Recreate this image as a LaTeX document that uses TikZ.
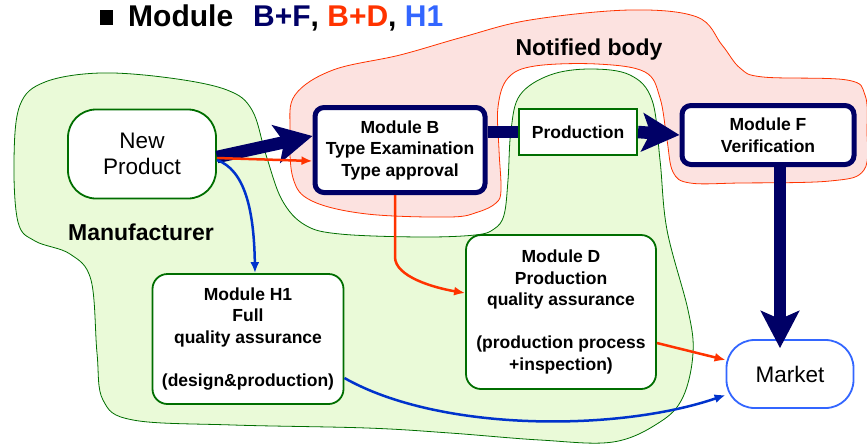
\documentclass[tikz,border=0pt]{standalone}
\usepackage{fontspec}
\setmainfont{Liberation Sans}
\usepackage{tikz}
\usetikzlibrary{arrows.meta}
\usepackage{xcolor}
\definecolor{deepnavy}{RGB}{0,0,102}
\definecolor{signalred}{RGB}{255,51,0}
\definecolor{lightblue}{RGB}{51,102,255}
\definecolor{deepblue}{RGB}{0,51,204}
\definecolor{deepgreen}{RGB}{0,110,0}
\definecolor{softgreen}{RGB}{234,250,216}
\definecolor{softred}{RGB}{252,226,224}
\tikzset{
  modnode/.style={draw=deepnavy,line width=5pt,rounded corners=9pt,fill=white,align=center,inner sep=0pt,
    font=\bfseries\fontsize{17.5}{21.5}\selectfont},
  qanode/.style={modnode,draw=deepgreen,line width=1.8pt,rounded corners=15pt},
  prodnode/.style={modnode,draw=deepgreen,line width=2pt,sharp corners},
  endnode/.style={draw=deepgreen,line width=1.8pt,rounded corners=28pt,fill=white,align=center,inner sep=0pt,
    font=\fontsize{22.5}{26}\selectfont},
  marketnode/.style={endnode,draw=lightblue},
  areatext/.style={anchor=base,font=\bfseries\fontsize{23}{26}\selectfont},
  manuarea/.style={draw=deepgreen,line width=0.8pt,fill=softgreen},
  notiarea/.style={draw=signalred,line width=0.8pt,fill=softred},
  bigflow/.style={-{Stealth[length=37pt,width=38pt,inset=8pt]},line width=12.5pt,draw=deepnavy},
  barflow/.style={line width=12.5pt,draw=deepnavy},
  redflow/.style={-{Latex[length=11pt,width=9pt]},line width=2.5pt,draw=signalred},
  blueflow/.style={redflow,draw=deepblue}
}
\begin{document}
\begin{tikzpicture}[x=1pt,y=-1pt]
  \useasboundingbox (0,0) rectangle (867,445);
  \draw[manuarea] plot[smooth cycle,tension=0.6] coordinates {(14,160) (20,105) (45,82) (100,73) (170,78) (227,90)
    (252,110) (266,155) (282,200) (305,225) (340,234) (420,237) (475,235) (494,229) (504,215) (508,180) (511,130)
    (520,95) (550,75) (590,69) (630,75) (652,100) (660,160) (667,230) (688,310) (693,353) (683,397) (660,422)
    (613,442) (540,440) (450,433) (367,428) (233,425) (133,420) (103,400) (97,353) (91,280) (70,254) (35,241)
    (18,222)};
  \draw[notiarea] plot[smooth cycle,tension=0.6] coordinates {(290,130) (295,95) (333,70) (400,55) (463,37) (530,20)
    (630,10) (697,17) (722,45) (740,68) (763,77) (847,80) (865,95) (867,130) (864,170) (830,181) (740,183)
    (690,183) (673,172) (667,140) (660,98) (645,72) (597,64) (535,66) (508,78) (498,107) (499,150) (501,190)
    (496,203) (478,212) (450,217) (367,214) (312,201) (293,178)};

  \node[anchor=base west,inner sep=0pt,font=\bfseries\fontsize{30}{34}\selectfont] (title) at (100,26)
    {\rule[1pt]{13pt}{15pt}\hspace{15pt}Module\hspace{20pt}\textcolor{deepnavy}{B+F}, \textcolor{signalred}{B+D}, \textcolor{lightblue}{H1}};
  \node[areatext] (manuf) at (141,240) {Manufacturer};
  \node[areatext] (notif) at (589,55) {Notified body};

  \node[endnode,minimum width=148pt,minimum height=89pt] (newprod) at (142,154) {New\\Product};
  \node[modnode,minimum width=170pt,minimum height=85pt] (modB) at (400,150) {Module B\\Type Examination\\Type approval};
  \node[prodnode,minimum width=118pt,minimum height=46pt] (prod) at (578,132) {Production};
  \node[modnode,minimum width=172pt,minimum height=59pt] (modF) at (768,135) {Module F\\Verification};
  \node[qanode,minimum width=191pt,minimum height=130pt] (modH) at (248,339)
    {Module H1\\Full\\quality assurance\\[21.5pt](design\&production)};
  \node[qanode,minimum width=190pt,minimum height=154pt] (modD) at (561,312)
    {Module D\\Production\\quality assurance\\[21.5pt](production process\\+inspection)};
  \node[marketnode,minimum width=127pt,minimum height=68pt] (market) at (790,374) {Market};

  \draw[bigflow] ([yshift=-3pt]newprod.east) -- ([yshift=14pt]modB.west);
  \draw[redflow] ([yshift=-4pt]newprod.east) -- ([yshift=-11pt]modB.west);
  \draw[blueflow] ([yshift=-6pt]newprod.east) .. controls +(28,10) and +(-1,-63) .. ([xshift=7pt]modH.north);
  \draw[blueflow] ([yshift=-39pt]modH.east) .. controls +(95,54) and +(-108,37) .. ([yshift=-21pt]market.west);
  \draw[redflow] ([xshift=-5pt]modB.south) -- ++(0,62) .. controls +(0,20) and +(-30,-5) .. ([yshift=19pt]modD.west);
  \draw[redflow] ([yshift=-31pt]modD.east) -- ([yshift=14pt]market.west);
  \draw[barflow] (modB.east |- prod.west) -- (prod.west);
  \draw[bigflow] (prod.east) -- (modF.west);
  \draw[bigflow] ([xshift=12pt]modF.south) -- ([xshift=-10pt,yshift=-9pt]market.north);
\end{tikzpicture}
\end{document}
